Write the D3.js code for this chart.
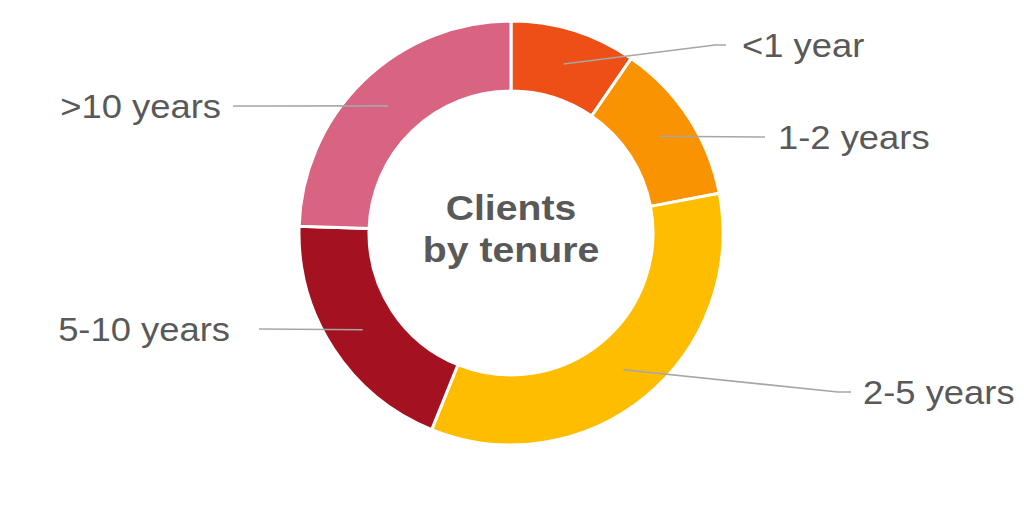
<!DOCTYPE html>
<html><head><meta charset="utf-8">
<script src="https://cdn.jsdelivr.net/npm/d3@7"></script>
<style>html,body{margin:0;padding:0;background:#fff;}svg{display:block;}</style>
</head><body>
<svg id="chart" width="1024" height="509"></svg>
<script>
const categories = ["<1 year", "1-2 years", "2-5 years", "5-10 years", ">10 years"];
const values = [9.6, 12.4, 34.1, 19.4, 24.5];
const colors = ["#ED4F16", "#FA9302", "#FEBD01", "#A41120", "#D86482"];
const titleLines = ["Clients", "by tenure"];

const W = 1024, H = 509;
const cx = 511, cy = 233, R = 212, r = 142;
const svg = d3.select("#chart");
const g = svg.append("g").attr("transform", `translate(${cx},${cy})`);

const data = categories.map((c, i) => ({ cat: c, value: values[i], color: colors[i] }));
const pie = d3.pie().value(d => d.value).sort(null);
const arcs = pie(data);
const arc = d3.arc().innerRadius(r).outerRadius(R);
const mid = d3.arc().innerRadius((r + R) / 2).outerRadius((r + R) / 2);

g.selectAll("path.slice").data(arcs).join("path")
  .attr("class", "slice")
  .attr("d", arc)
  .attr("fill", d => d.data.color)
  .attr("stroke", "#fff")
  .attr("stroke-width", 3)
  .attr("stroke-linejoin", "miter");

// label layout: offsets (relative to centre) of the elbow and end of each leader
const labelPos = [
  { bend: [204, -188], end: [215, -188], side: 1, gap: 16 },
  { bend: [250, -96], end: [254, -96], side: 1, gap: 13 },
  { bend: [327, 159], end: [340, 159], side: 1, gap: 12 },
  { bend: [-252, 96], end: [-252, 96], side: -1, gap: 29 },
  { bend: [-278, -127], end: [-278, -127], side: -1, gap: 12 }
];

arcs.forEach((a, i) => {
  const [mx, my] = mid.centroid(a);
  const p = labelPos[i];
  g.append("polyline")
    .attr("points", [[mx, my], p.bend, p.end].map(q => q.join(",")).join(" "))
    .attr("fill", "none")
    .attr("stroke", "#A6A6A6")
    .attr("stroke-width", 1.6);
  g.append("text")
    .attr("transform", `translate(${p.end[0] + p.side * p.gap},${p.end[1]}) scale(1.07,1)`)
    .attr("dy", "0.35em")
    .attr("text-anchor", p.side > 0 ? "start" : "end")
    .attr("font-family", "Liberation Sans, Arial, sans-serif")
    .attr("font-size", 34)
    .attr("fill", "#595959")
    .text(a.data.cat);
});

g.selectAll("text.title").data(titleLines).join("text")
  .attr("class", "title")
  .attr("transform", (d, i) => `translate(0,${-13 + i * 42}) scale(1.12,1)`)
  .attr("text-anchor", "middle")
  .attr("font-family", "Liberation Sans, Arial, sans-serif")
  .attr("font-weight", "bold")
  .attr("font-size", 35)
  .attr("fill", "#595959")
  .text(d => d);
</script>
</body></html>
